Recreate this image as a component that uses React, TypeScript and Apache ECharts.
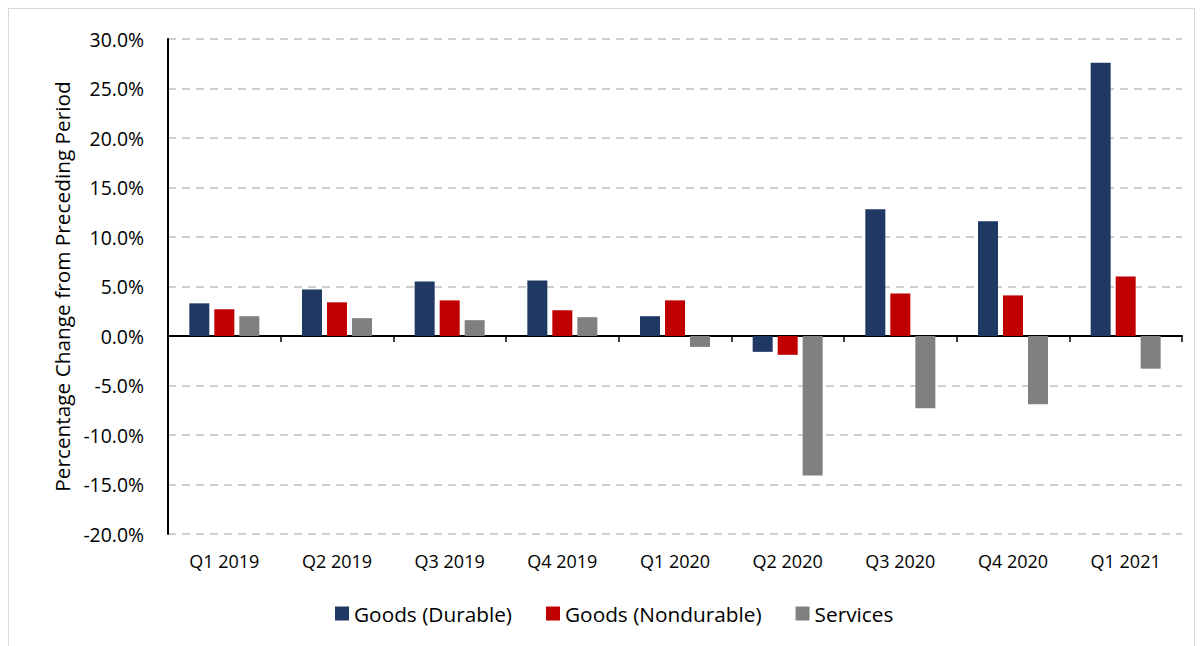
import React, { useEffect, useRef } from "react";
import * as echarts from "echarts";

const categories = ["Q1 2019", "Q2 2019", "Q3 2019", "Q4 2019", "Q1 2020", "Q2 2020", "Q3 2020", "Q4 2020", "Q1 2021"];
const durable = [3.3, 4.7, 5.5, 5.6, 2.0, -1.6, 12.8, 11.6, 27.6];
const nondurable = [2.7, 3.4, 3.6, 2.6, 3.6, -1.9, 4.3, 4.1, 6.0];
const services = [2.0, 1.8, 1.6, 1.9, -1.1, -14.1, -7.3, -6.9, -3.3];
const seriesNames = ["Goods (Durable)", "Goods (Nondurable)", "Services"];
const colors = ["#1F3864", "#C00000", "#808080"];

const FONT = "Open Sans";

export default function App() {
  const ref = useRef<HTMLDivElement>(null);
  useEffect(() => {
    if (!ref.current) return;
    const chart = echarts.init(ref.current, undefined, { renderer: "svg" });
    const data = [durable, nondurable, services];
    chart.setOption({
      animation: false,
      textStyle: { fontFamily: FONT },
      grid: { left: 159, top: 30, width: 1014, height: 495, containLabel: false },
      legend: {
        left: 321,
        top: 589,
        itemWidth: 14,
        itemHeight: 14,
        itemGap: 34,
        icon: "rect",
        textStyle: { fontFamily: FONT, fontSize: 20.8, color: "#000" },
        data: seriesNames,
      },
      xAxis: [
        {
          type: "category",
          data: categories,
          position: "bottom",
          axisLine: { show: false, onZero: false },
          axisTick: { show: false },
          axisLabel: { fontFamily: FONT, fontSize: 18, color: "#000", margin: 18 },
        },
        {
          type: "category",
          data: categories,
          position: "top",
          axisLine: { show: true, onZero: true, lineStyle: { color: "#000", width: 2 } },
          axisTick: { show: true, inside: true, length: 6, lineStyle: { color: "#000", width: 1.5 } },
          axisLabel: { show: false },
        },
      ],
      yAxis: {
        type: "value",
        min: -20,
        max: 30,
        interval: 5,
        name: "Percentage Change from Preceding Period",
        nameLocation: "middle",
        nameGap: 95,
        nameTextStyle: { fontFamily: FONT, fontSize: 20.8, color: "#000" },
        axisLine: { show: true, lineStyle: { color: "#000", width: 2 } },
        axisTick: { show: false },
        axisLabel: {
          fontFamily: FONT,
          fontSize: 19.4,
          color: "#000",
          margin: 24,
          formatter: (v: number) => v.toFixed(1) + "%",
        },
        splitLine: { show: true, lineStyle: { color: "#c0c0c0", width: 1.5, type: [8, 6] } },
      },
      series: seriesNames.map((name, i) => ({
        name,
        type: "bar",
        xAxisIndex: 0,
        data: data[i],
        barWidth: 20,
        barGap: "25%",
        itemStyle: { color: colors[i] },
      })),
    });
    return () => chart.dispose();
  }, []);
  return (
    <div
      ref={ref}
      style={{ width: 1185, height: 640, border: "1px solid #d9d9d9", background: "#fff" }}
    />
  );
}
